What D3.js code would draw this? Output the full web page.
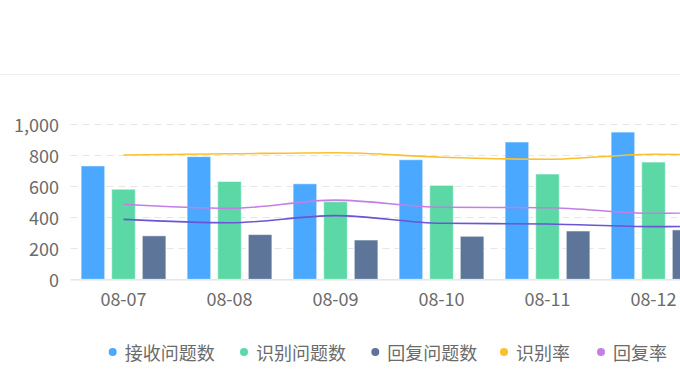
<!DOCTYPE html>
<html>
<head>
<meta charset="utf-8">
<script src="https://cdn.jsdelivr.net/npm/d3@7"></script>
<style>
  html, body { margin: 0; padding: 0; background: #ffffff; }
  svg { display: block; }
  text { font-family: "Noto Sans CJK SC", "Noto Sans", sans-serif; }
</style>
</head>
<body>
<svg id="chart" width="680" height="378"></svg>
<script>
// ---- data ----
const categories = ["08-07", "08-08", "08-09", "08-10", "08-11", "08-12", "08-13"];
const received   = [730, 790, 615, 770, 884, 948, 900];   // 接收问题数
const recognized = [580, 630, 500, 605, 678, 755, 720];   // 识别问题数
const replied    = [280, 288, 253, 277, 311, 318, 315];   // 回复问题数
const recogRate  = [80.0, 80.8, 81.5, 78.6, 77.3, 80.5, 80.0]; // 识别率 (%)
const replyRate  = [48.3, 45.7, 51.0, 46.4, 46.1, 42.5, 44.0]; // 回复率 (%)
const replyRecvRate = [38.6, 36.4, 41.0, 36.1, 35.6, 33.9, 35.0]; // third line (legend off-screen)
const yTicks = [0, 200, 400, 600, 800, 1000];

const barSeries = [
  { name: "接收问题数", values: received,   color: "#4ba8ff" },
  { name: "识别问题数", values: recognized, color: "#5cd8a6" },
  { name: "回复问题数", values: replied,    color: "#5d7598" }
];
const lineSeries = [
  { name: "识别率", values: recogRate,     color: "#fbc02d" },
  { name: "回复率", values: replyRate,     color: "#c47ee4" },
  { name: "",       values: replyRecvRate, color: "#6a55d4" }
];
const legendItems = [
  { name: "接收问题数", color: "#4ba8ff" },
  { name: "识别问题数", color: "#5cd8a6" },
  { name: "回复问题数", color: "#5d7598" },
  { name: "识别率",     color: "#fbc02d" },
  { name: "回复率",     color: "#c47ee4" }
];

// ---- layout ----
const svg = d3.select("#chart");
const plotLeft = 70.5, bandW = 106;
const plotTop = 124, plotBottom = 279.3;

// separator line at top
svg.append("line").attr("x1", 0).attr("x2", 680).attr("y1", 74.5).attr("y2", 74.5)
  .attr("stroke", "#ececec").attr("stroke-width", 1);

const x = d3.scaleBand().domain(categories)
  .range([plotLeft, plotLeft + bandW * categories.length]).paddingInner(0).paddingOuter(0);
const y = d3.scaleLinear().domain([0, 1000]).range([plotBottom, plotTop]);
const yR = d3.scaleLinear().domain([0, 100]).range([plotBottom, plotTop]);
const xs = d3.scaleBand().domain(barSeries.map(d => d.name))
  .range([x.bandwidth() * 0.1, x.bandwidth() * 0.9]).paddingInner(0.228).paddingOuter(0);

// grid lines
svg.append("g").selectAll("line").data(yTicks.filter(t => t > 0)).join("line")
  .attr("x1", plotLeft).attr("x2", 680)
  .attr("y1", d => Math.round(y(d)) + 0.5).attr("y2", d => Math.round(y(d)) + 0.5)
  .attr("stroke", "#e6e6e6").attr("stroke-width", 1.2).attr("stroke-dasharray", "7,5");

// y axis labels
svg.append("g").selectAll("text").data(yTicks).join("text")
  .attr("x", 59).attr("y", d => y(d))
  .attr("text-anchor", "end").attr("dominant-baseline", "central")
  .attr("font-size", 18).attr("fill", "#6b6b6b")
  .text(d => d3.format(",")(d));

// bars
const groups = svg.append("g").selectAll("g").data(barSeries).join("g")
  .attr("fill", d => d.color);
groups.selectAll("rect").data(s => s.values.map((v, i) => ({ s, v, c: categories[i] }))).join("rect")
  .attr("x", d => x(d.c) + xs(d.s.name))
  .attr("width", xs.bandwidth())
  .attr("y", d => y(d.v))
  .attr("height", d => plotBottom - y(d.v))
  .attr("stroke", "#ffffff").attr("stroke-opacity", 0.55).attr("stroke-width", 1);

// baseline
svg.append("line").attr("x1", plotLeft).attr("x2", 680)
  .attr("y1", plotBottom + 0.5).attr("y2", plotBottom + 0.5)
  .attr("stroke", "#e6e6e6").attr("stroke-width", 1.5);

// x labels
svg.append("g").selectAll("text").data(categories).join("text")
  .attr("x", d => x(d) + x.bandwidth() / 2).attr("y", 298)
  .attr("text-anchor", "middle").attr("dominant-baseline", "central")
  .attr("font-size", 18).attr("fill", "#6b6b6b")
  .text(d => d);

// lines
const line = d3.line()
  .x((d, i) => x(categories[i]) + x.bandwidth() / 2)
  .y(d => yR(d))
  .curve(d3.curveMonotoneX);
svg.append("g").selectAll("path").data(lineSeries).join("path")
  .attr("d", d => line(d.values))
  .attr("fill", "none").attr("stroke", d => d.color).attr("stroke-width", 1.6);

// legend
const legendX = [112.7, 244, 375.3, 504, 601];
const lg = svg.append("g").selectAll("g").data(legendItems).join("g")
  .attr("transform", (d, i) => `translate(${legendX[i]},352)`);
lg.append("circle").attr("r", 4).attr("fill", d => d.color);
lg.append("text").attr("x", 12).attr("y", 0)
  .attr("dominant-baseline", "central").attr("font-size", 18).attr("fill", "#6b6b6b")
  .text(d => d.name);
</script>
</body>
</html>
